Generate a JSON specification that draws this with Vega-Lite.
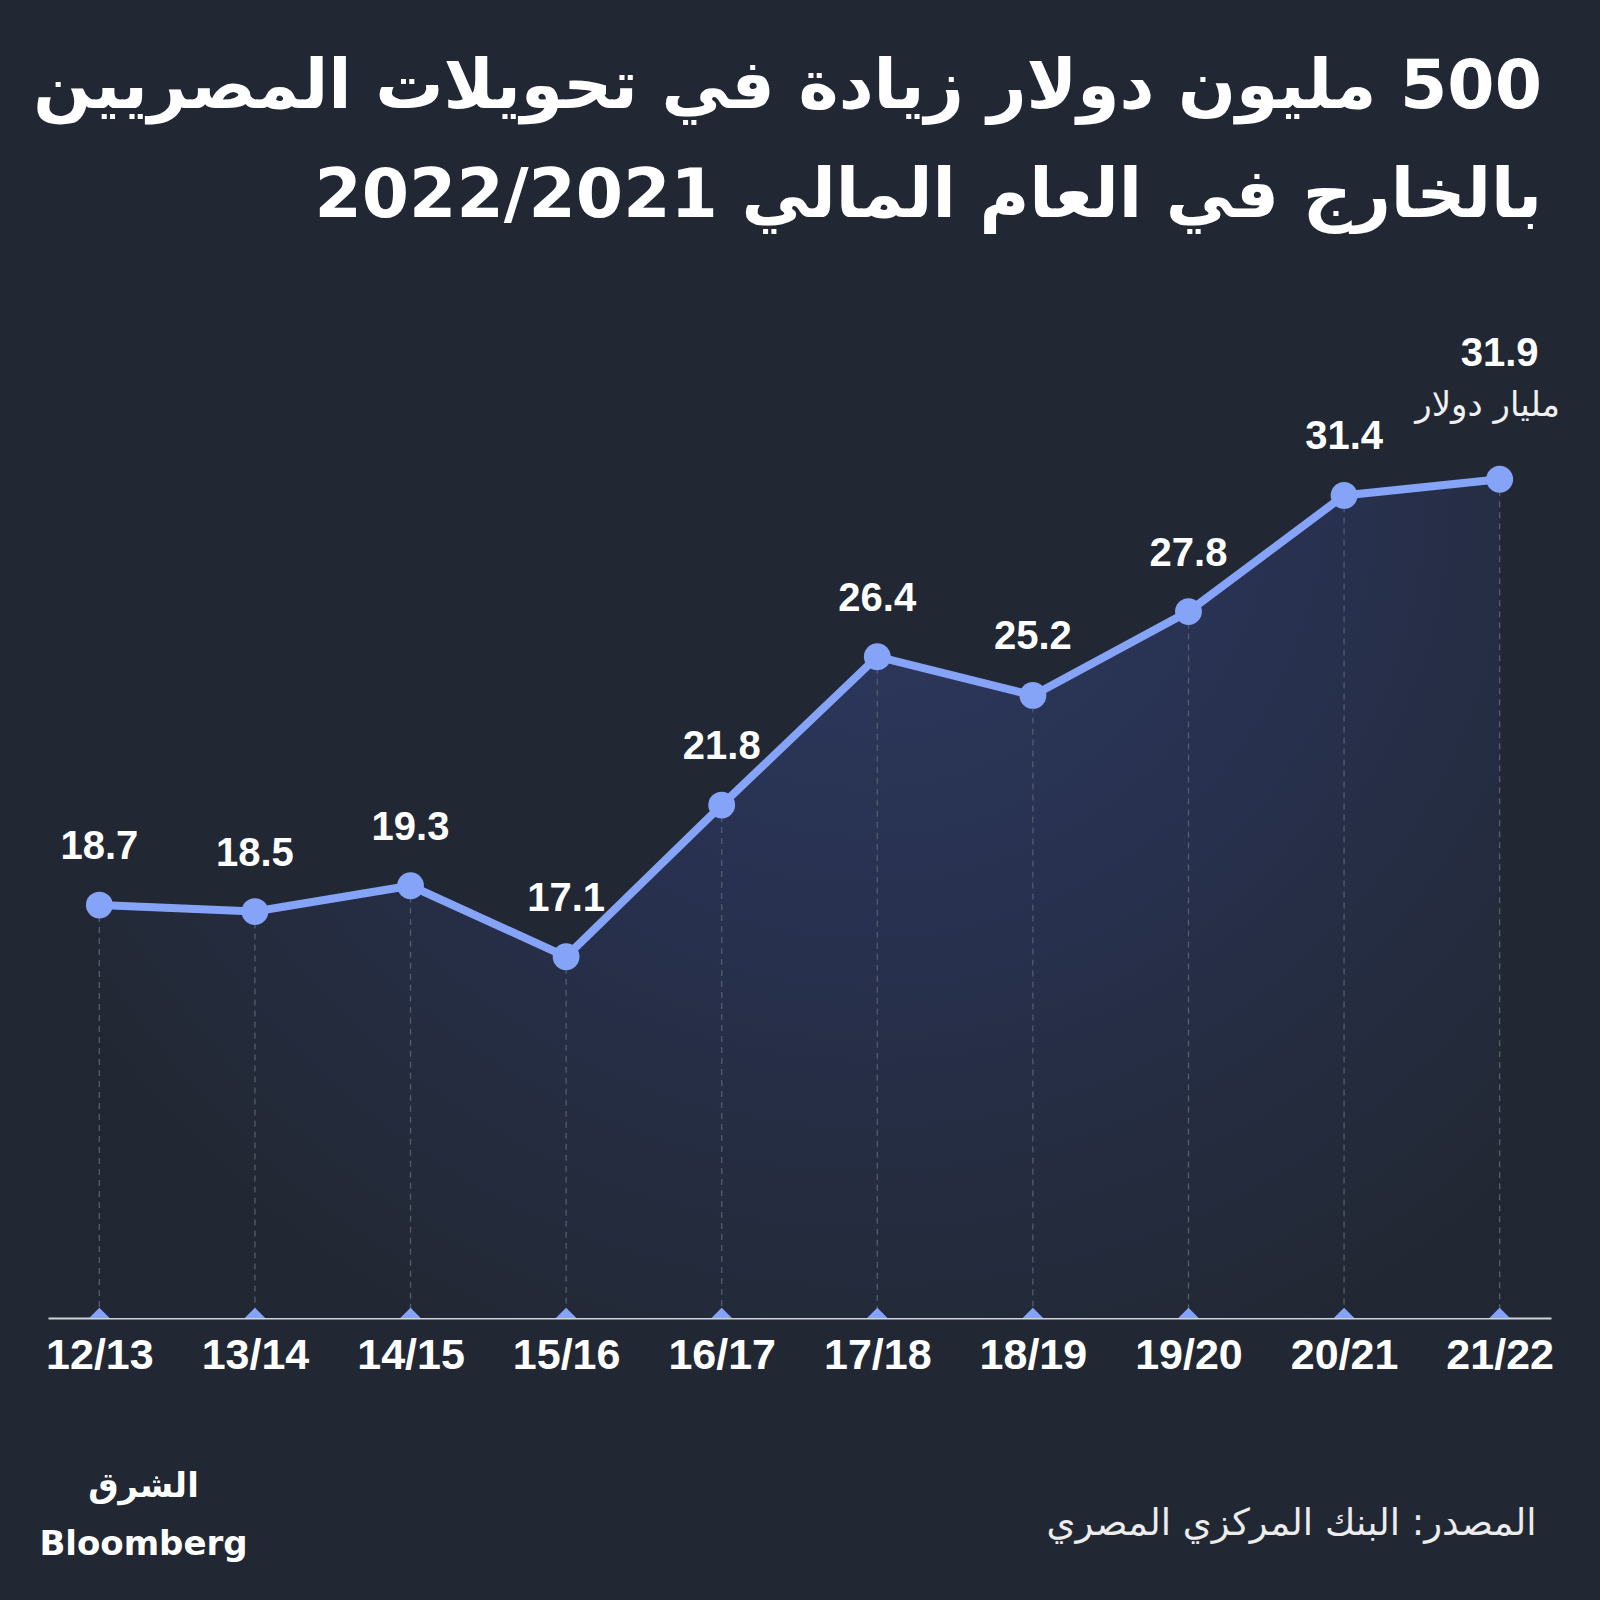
{
  "$schema": "https://vega.github.io/schema/vega-lite/v6.json",
  "autosize": {"type": "none"},
  "width": 1503,
  "height": 1100,
  "padding": {"left": 48, "top": 218, "right": 49, "bottom": 282},
  "background": "#222833",
  "config": {"view": {"stroke": null}},
  "title": {
    "text": ["\u200f500 مليون دولار زيادة في تحويلات المصريين", "بالخارج في العام المالي 2022/2021"],
    "anchor": "end",
    "align": "right",
    "font": "DejaVu Sans",
    "fontWeight": "bold",
    "fontSize": 68,
    "lineHeight": 109,
    "color": "#ffffff",
    "dx": -18,
    "offset": -13
  },
  "data": {
    "values": [
      {"year": "12/13", "value": 18.7, "unit": ""},
      {"year": "13/14", "value": 18.5, "unit": ""},
      {"year": "14/15", "value": 19.3, "unit": ""},
      {"year": "15/16", "value": 17.1, "unit": ""},
      {"year": "16/17", "value": 21.8, "unit": ""},
      {"year": "17/18", "value": 26.4, "unit": ""},
      {"year": "18/19", "value": 25.2, "unit": ""},
      {"year": "19/20", "value": 27.8, "unit": ""},
      {"year": "20/21", "value": 31.4, "unit": ""},
      {"year": "21/22", "value": 31.9, "unit": "مليار دولار"}
    ]
  },
  "encoding": {
    "x": {
      "field": "year",
      "type": "ordinal",
      "sort": null,
      "scale": {"type": "point", "padding": 0.33},
      "axis": {
        "labelAngle": 0,
        "labelFont": "Liberation Sans",
        "labelFontWeight": "bold",
        "labelFontSize": 43,
        "labelColor": "#ffffff",
        "labelPadding": 16,
        "ticks": false,
        "grid": false,
        "domainColor": "#cfd3dc",
        "domainWidth": 2,
        "title": "المصدر: البنك المركزي المصري",
        "titleFont": "DejaVu Sans",
        "titleFontWeight": "normal",
        "titleFontSize": 37,
        "titleColor": "#ececec",
        "titleAlign": "right",
        "titleBaseline": "middle",
        "titleX": 1488,
        "titleY": 205
      }
    },
    "y": {
      "field": "value",
      "type": "quantitative",
      "scale": {"domain": [5.9, 40], "zero": false, "nice": false},
      "axis": {
        "domain": false,
        "ticks": false,
        "labels": false,
        "grid": false,
        "title": ["الشرق", "Bloomberg"],
        "titleAngle": 0,
        "titleFont": "DejaVu Sans",
        "titleFontWeight": "bold",
        "titleFontSize": 34,
        "titleColor": "#ffffff",
        "titleAlign": "center",
        "titleBaseline": "middle",
        "titleLineHeight": 58,
        "titleX": 95,
        "titleY": 1268
      }
    }
  },
  "layer": [
    {
      "mark": {
        "type": "area",
        "color": {
          "gradient": "radial",
          "x1": 0.55, "y1": 0.2, "r1": 0,
          "x2": 0.55, "y2": 0.2, "r2": 0.68,
          "stops": [
            {"offset": 0, "color": "#2e3a60"},
            {"offset": 0.45, "color": "#283150"},
            {"offset": 1, "color": "#222833"}
          ]
        }
      },
      "encoding": {"y2": {"datum": 5.9}}
    },
    {
      "mark": {"type": "rule", "strokeDash": [6, 5], "color": "#555c6c", "strokeWidth": 1.3},
      "encoding": {"y2": {"datum": 5.9}}
    },
    {
      "mark": {"type": "point", "filled": true, "shape": "M-1,0L0,-1L1,0Z", "size": 420, "color": "#86a4f7", "opacity": 1},
      "encoding": {"y": {"datum": 5.9, "type": "quantitative"}}
    },
    {
      "mark": {"type": "line", "color": "#86a4f7", "strokeWidth": 8},
      "encoding": {}
    },
    {
      "mark": {"type": "point", "filled": true, "size": 720, "color": "#86a4f7", "opacity": 1},
      "encoding": {}
    },
    {
      "transform": [{"filter": "datum.unit == ''"}],
      "mark": {"type": "text", "font": "Liberation Sans", "fontWeight": "bold", "fontSize": 40, "color": "#ffffff", "baseline": "middle", "dy": -58},
      "encoding": {"text": {"field": "value", "type": "quantitative", "format": ".1f"}}
    },
    {
      "transform": [{"filter": "datum.unit != ''"}],
      "mark": {"type": "text", "font": "Liberation Sans", "fontWeight": "bold", "fontSize": 40, "color": "#ffffff", "baseline": "middle", "dy": -125},
      "encoding": {"text": {"field": "value", "type": "quantitative", "format": ".1f"}}
    },
    {
      "transform": [{"filter": "datum.unit != ''"}],
      "mark": {"type": "text", "font": "DejaVu Sans", "fontSize": 34, "color": "#f0f0f0", "baseline": "middle", "dy": -73, "dx": -12},
      "encoding": {"text": {"field": "unit"}}
    }
  ]
}
